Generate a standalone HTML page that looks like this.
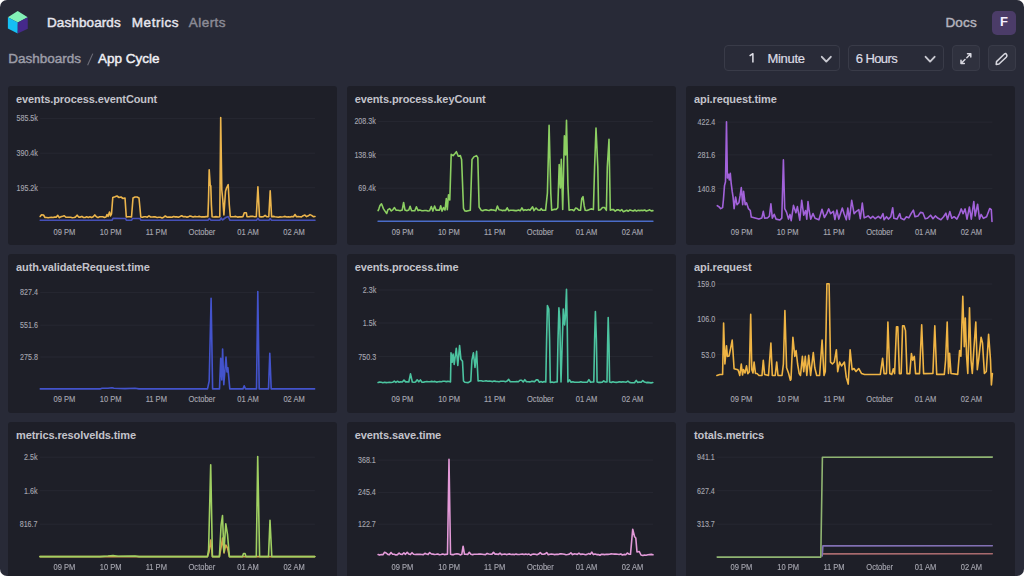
<!DOCTYPE html>
<html><head><meta charset="utf-8">
<style>
html,body{margin:0;padding:0;background:#fff;}
body{width:1024px;height:576px;overflow:hidden;position:relative;font-family:"Liberation Sans",sans-serif;}
#app{filter:blur(0.3px);position:absolute;left:0;top:0;width:1024px;height:576px;background:#282a37;border-radius:7px;overflow:hidden;}
.abs{position:absolute;white-space:nowrap;}
.nav{font-size:13.5px;top:14.9px;line-height:16px;color:#e6e6ee;-webkit-text-stroke:0.45px currentColor;}
.panel{position:absolute;width:329.1px;height:159.5px;background:#1e1f28;border-radius:3px;}
.ptitle{position:absolute;font-size:11px;line-height:12px;letter-spacing:-0.1px;font-weight:bold;color:#c3c3cb;white-space:nowrap;}
.sel{position:absolute;top:44.8px;height:26.6px;border:1px solid #393b48;border-radius:4px;box-sizing:border-box;background:#2b2d3a;}
.ctl{font-size:13px;top:51px;line-height:16px;color:#dcdce4;-webkit-text-stroke:0.2px currentColor;}
svg text{font-family:"Liberation Sans",sans-serif;}
.yl{font-size:8.2px;fill:#a6a6b0;stroke:#a6a6b0;stroke-width:0.12px;}
.xl{font-size:8.2px;fill:#a8a8b2;stroke:#a8a8b2;stroke-width:0.12px;}
</style></head>
<body><div id="app">
<svg class="abs" style="left:0;top:0" width="40" height="40" viewBox="0 0 40 40">
<polygon points="17.7,11 27.7,17.2 17.8,22.6 7.9,17.2" fill="#83f0b6"/>
<polygon points="7.9,17.2 17.8,22.6 17.7,33.6 7.9,28.4" fill="#15bff3"/>
<polygon points="27.7,17.2 27.8,28.8 17.7,33.6 17.8,22.6" fill="#45298a"/>
</svg>
<div class="abs nav" style="left:47px;letter-spacing:0.1px">Dashboards</div>
<div class="abs nav" style="left:131.8px;letter-spacing:0.55px">Metrics</div>
<div class="abs nav" style="left:188.8px;letter-spacing:0.45px;color:#8b8b96">Alerts</div>
<div class="abs nav" style="left:945.4px;letter-spacing:0.2px;color:#b4b4be">Docs</div>
<div class="abs" style="left:992px;top:10.5px;width:24px;height:24px;border-radius:5px;background:#4b3c68;color:#f4f0ff;font-weight:bold;font-size:13px;text-align:center;line-height:22.4px;">F</div>

<div class="abs nav" style="left:8.2px;top:50.7px;font-size:13.5px;color:#9d9da8">Dashboards</div>

<div class="abs nav" style="left:98px;top:50.7px;font-size:13.5px;color:#f0f0f5">App Cycle</div>

<div class="sel" style="left:724px;width:116px;background:#292b38"></div>
<div class="sel" style="left:848px;width:96px;background:#292b38"></div>
<div class="sel" style="left:952px;width:28px;background:#2f313e"></div>
<div class="sel" style="left:988px;width:28px;background:#2f313e"></div>

<div class="abs ctl" style="left:767.5px;letter-spacing:-0.3px">Minute</div>
<div class="abs ctl" style="left:855.8px;letter-spacing:-0.6px">6 Hours</div>
<svg class="abs" style="left:0;top:0" width="1024" height="80" viewBox="0 0 1024 80">
<path d="M749.6,55.9 L752.9,53.7 L752.9,62.6" fill="none" stroke="#e2e2ea" stroke-width="1.5" stroke-linejoin="round"/>
<path d="M87.6,65.2 L92.8,53.6" stroke="#6e6e79" stroke-width="1.1"/>
<path d="M821.8,56.8 L826.3,61.6 L830.8,56.8" fill="none" stroke="#c8c8d0" stroke-width="1.9" stroke-linecap="round" stroke-linejoin="round"/>
<path d="M925.6,56.8 L930.1,61.6 L934.6,56.8" fill="none" stroke="#c8c8d0" stroke-width="1.9" stroke-linecap="round" stroke-linejoin="round"/>
<g fill="none" stroke="#d8d8e0" stroke-width="1.5" stroke-linecap="round" stroke-linejoin="round">
<path d="M961,63.5 L965,59.5 M961,60.2 L961,63.5 L964.3,63.5 M970.8,53.8 L966.8,57.8 M967.5,53.8 L970.8,53.8 L970.8,57.1"/>
<path d="M1005.6,53.4 Q1007.9,55.5 1006.2,57.3 L999,64 L996.2,64.4 L996.5,61.6 L1003.6,54.8 Q1004.6,53.6 1005.6,53.4 Z"/>
</g>
</svg>

<div class="panel" style="left:8.0px;top:85.6px"></div>
<div class="ptitle" style="left:16.0px;top:93.0px">events.process.eventCount</div>
<div class="panel" style="left:346.7px;top:85.6px"></div>
<div class="ptitle" style="left:354.7px;top:93.0px">events.process.keyCount</div>
<div class="panel" style="left:686.0px;top:85.6px"></div>
<div class="ptitle" style="left:694.0px;top:93.0px">api.request.time</div>
<div class="panel" style="left:8.0px;top:253.5px"></div>
<div class="ptitle" style="left:16.0px;top:260.9px">auth.validateRequest.time</div>
<div class="panel" style="left:346.7px;top:253.5px"></div>
<div class="ptitle" style="left:354.7px;top:260.9px">events.process.time</div>
<div class="panel" style="left:686.0px;top:253.5px"></div>
<div class="ptitle" style="left:694.0px;top:260.9px">api.request</div>
<div class="panel" style="left:8.0px;top:421.6px"></div>
<div class="ptitle" style="left:16.0px;top:429.0px">metrics.resolveIds.time</div>
<div class="panel" style="left:346.7px;top:421.6px"></div>
<div class="ptitle" style="left:354.7px;top:429.0px">events.save.time</div>
<div class="panel" style="left:686.0px;top:421.6px"></div>
<div class="ptitle" style="left:694.0px;top:429.0px">totals.metrics</div>
<svg class="abs" style="left:0;top:0" width="1024" height="576" viewBox="0 0 1024 576">
<line x1="40.2" y1="118.4" x2="315.0" y2="118.4" stroke="#272832" stroke-width="1"/>
<line x1="40.2" y1="153.2" x2="315.0" y2="153.2" stroke="#272832" stroke-width="1"/>
<line x1="40.2" y1="187.7" x2="315.0" y2="187.7" stroke="#272832" stroke-width="1"/>
<line x1="378.1" y1="121.4" x2="652.9" y2="121.4" stroke="#272832" stroke-width="1"/>
<line x1="378.1" y1="154.9" x2="652.9" y2="154.9" stroke="#272832" stroke-width="1"/>
<line x1="378.1" y1="188.2" x2="652.9" y2="188.2" stroke="#272832" stroke-width="1"/>
<line x1="717.6" y1="122.1" x2="992.4" y2="122.1" stroke="#272832" stroke-width="1"/>
<line x1="717.6" y1="154.9" x2="992.4" y2="154.9" stroke="#272832" stroke-width="1"/>
<line x1="717.6" y1="188.6" x2="992.4" y2="188.6" stroke="#272832" stroke-width="1"/>
<line x1="40.3" y1="292.4" x2="314.6" y2="292.4" stroke="#272832" stroke-width="1"/>
<line x1="40.3" y1="325.2" x2="314.6" y2="325.2" stroke="#272832" stroke-width="1"/>
<line x1="40.3" y1="357.0" x2="314.6" y2="357.0" stroke="#272832" stroke-width="1"/>
<line x1="378.1" y1="290.0" x2="652.8" y2="290.0" stroke="#272832" stroke-width="1"/>
<line x1="378.1" y1="323.0" x2="652.8" y2="323.0" stroke="#272832" stroke-width="1"/>
<line x1="378.1" y1="356.6" x2="652.8" y2="356.6" stroke="#272832" stroke-width="1"/>
<line x1="717.1" y1="284.0" x2="992.3" y2="284.0" stroke="#272832" stroke-width="1"/>
<line x1="717.1" y1="319.2" x2="992.3" y2="319.2" stroke="#272832" stroke-width="1"/>
<line x1="717.1" y1="354.6" x2="992.3" y2="354.6" stroke="#272832" stroke-width="1"/>
<line x1="39.9" y1="457.2" x2="314.8" y2="457.2" stroke="#272832" stroke-width="1"/>
<line x1="39.9" y1="490.7" x2="314.8" y2="490.7" stroke="#272832" stroke-width="1"/>
<line x1="39.9" y1="524.2" x2="314.8" y2="524.2" stroke="#272832" stroke-width="1"/>
<line x1="378.1" y1="460.1" x2="653.0" y2="460.1" stroke="#272832" stroke-width="1"/>
<line x1="378.1" y1="492.4" x2="653.0" y2="492.4" stroke="#272832" stroke-width="1"/>
<line x1="378.1" y1="524.2" x2="653.0" y2="524.2" stroke="#272832" stroke-width="1"/>
<line x1="717.2" y1="457.2" x2="992.3" y2="457.2" stroke="#272832" stroke-width="1"/>
<line x1="717.2" y1="490.7" x2="992.3" y2="490.7" stroke="#272832" stroke-width="1"/>
<line x1="717.2" y1="524.2" x2="992.3" y2="524.2" stroke="#272832" stroke-width="1"/>
<text transform="translate(37.9,121.3) scale(0.87,1)" text-anchor="end" class="yl">585.5k</text>
<text transform="translate(37.9,156.1) scale(0.87,1)" text-anchor="end" class="yl">390.4k</text>
<text transform="translate(37.9,190.6) scale(0.87,1)" text-anchor="end" class="yl">195.2k</text>
<text transform="translate(64.4,234.7) scale(0.92,1)" text-anchor="middle" class="xl">09 PM</text>
<text transform="translate(110.6,234.7) scale(0.92,1)" text-anchor="middle" class="xl">10 PM</text>
<text transform="translate(156.3,234.7) scale(0.92,1)" text-anchor="middle" class="xl">11 PM</text>
<text transform="translate(202.0,234.7) scale(0.92,1)" text-anchor="middle" class="xl">October</text>
<text transform="translate(248.0,234.7) scale(0.92,1)" text-anchor="middle" class="xl">01 AM</text>
<text transform="translate(294.0,234.7) scale(0.92,1)" text-anchor="middle" class="xl">02 AM</text>
<text transform="translate(375.8,124.3) scale(0.87,1)" text-anchor="end" class="yl">208.3k</text>
<text transform="translate(375.8,157.8) scale(0.87,1)" text-anchor="end" class="yl">138.9k</text>
<text transform="translate(375.8,191.1) scale(0.87,1)" text-anchor="end" class="yl">69.4k</text>
<text transform="translate(402.7,234.7) scale(0.92,1)" text-anchor="middle" class="xl">09 PM</text>
<text transform="translate(448.8,234.7) scale(0.92,1)" text-anchor="middle" class="xl">10 PM</text>
<text transform="translate(494.7,234.7) scale(0.92,1)" text-anchor="middle" class="xl">11 PM</text>
<text transform="translate(540.2,234.7) scale(0.92,1)" text-anchor="middle" class="xl">October</text>
<text transform="translate(586.5,234.7) scale(0.92,1)" text-anchor="middle" class="xl">01 AM</text>
<text transform="translate(632.4,234.7) scale(0.92,1)" text-anchor="middle" class="xl">02 AM</text>
<text transform="translate(715.3,125.0) scale(0.87,1)" text-anchor="end" class="yl">422.4</text>
<text transform="translate(715.3,157.8) scale(0.87,1)" text-anchor="end" class="yl">281.6</text>
<text transform="translate(715.3,191.5) scale(0.87,1)" text-anchor="end" class="yl">140.8</text>
<text transform="translate(741.6,234.7) scale(0.92,1)" text-anchor="middle" class="xl">09 PM</text>
<text transform="translate(787.7,234.7) scale(0.92,1)" text-anchor="middle" class="xl">10 PM</text>
<text transform="translate(833.8,234.7) scale(0.92,1)" text-anchor="middle" class="xl">11 PM</text>
<text transform="translate(879.6,234.7) scale(0.92,1)" text-anchor="middle" class="xl">October</text>
<text transform="translate(925.6,234.7) scale(0.92,1)" text-anchor="middle" class="xl">01 AM</text>
<text transform="translate(971.3,234.7) scale(0.92,1)" text-anchor="middle" class="xl">02 AM</text>
<text transform="translate(37.9,295.3) scale(0.87,1)" text-anchor="end" class="yl">827.4</text>
<text transform="translate(37.9,328.1) scale(0.87,1)" text-anchor="end" class="yl">551.6</text>
<text transform="translate(37.9,359.9) scale(0.87,1)" text-anchor="end" class="yl">275.8</text>
<text transform="translate(64.4,402.3) scale(0.92,1)" text-anchor="middle" class="xl">09 PM</text>
<text transform="translate(110.6,402.3) scale(0.92,1)" text-anchor="middle" class="xl">10 PM</text>
<text transform="translate(156.3,402.3) scale(0.92,1)" text-anchor="middle" class="xl">11 PM</text>
<text transform="translate(201.9,402.3) scale(0.92,1)" text-anchor="middle" class="xl">October</text>
<text transform="translate(248.0,402.3) scale(0.92,1)" text-anchor="middle" class="xl">01 AM</text>
<text transform="translate(294.1,402.3) scale(0.92,1)" text-anchor="middle" class="xl">02 AM</text>
<text transform="translate(376.2,292.9) scale(0.87,1)" text-anchor="end" class="yl">2.3k</text>
<text transform="translate(376.2,325.9) scale(0.87,1)" text-anchor="end" class="yl">1.5k</text>
<text transform="translate(376.2,359.5) scale(0.87,1)" text-anchor="end" class="yl">750.3</text>
<text transform="translate(402.5,402.3) scale(0.92,1)" text-anchor="middle" class="xl">09 PM</text>
<text transform="translate(449.1,402.3) scale(0.92,1)" text-anchor="middle" class="xl">10 PM</text>
<text transform="translate(494.7,402.3) scale(0.92,1)" text-anchor="middle" class="xl">11 PM</text>
<text transform="translate(540.4,402.3) scale(0.92,1)" text-anchor="middle" class="xl">October</text>
<text transform="translate(586.5,402.3) scale(0.92,1)" text-anchor="middle" class="xl">01 AM</text>
<text transform="translate(632.5,402.3) scale(0.92,1)" text-anchor="middle" class="xl">02 AM</text>
<text transform="translate(715.2,286.9) scale(0.87,1)" text-anchor="end" class="yl">159.0</text>
<text transform="translate(715.2,322.1) scale(0.87,1)" text-anchor="end" class="yl">106.0</text>
<text transform="translate(715.2,357.5) scale(0.87,1)" text-anchor="end" class="yl">53.0</text>
<text transform="translate(741.4,402.3) scale(0.92,1)" text-anchor="middle" class="xl">09 PM</text>
<text transform="translate(788.2,402.3) scale(0.92,1)" text-anchor="middle" class="xl">10 PM</text>
<text transform="translate(834.0,402.3) scale(0.92,1)" text-anchor="middle" class="xl">11 PM</text>
<text transform="translate(879.7,402.3) scale(0.92,1)" text-anchor="middle" class="xl">October</text>
<text transform="translate(925.5,402.3) scale(0.92,1)" text-anchor="middle" class="xl">01 AM</text>
<text transform="translate(971.4,402.3) scale(0.92,1)" text-anchor="middle" class="xl">02 AM</text>
<text transform="translate(37.5,460.1) scale(0.87,1)" text-anchor="end" class="yl">2.5k</text>
<text transform="translate(37.5,493.6) scale(0.87,1)" text-anchor="end" class="yl">1.6k</text>
<text transform="translate(37.5,527.1) scale(0.87,1)" text-anchor="end" class="yl">816.7</text>
<text transform="translate(64.4,570.3) scale(0.92,1)" text-anchor="middle" class="xl">09 PM</text>
<text transform="translate(110.6,570.3) scale(0.92,1)" text-anchor="middle" class="xl">10 PM</text>
<text transform="translate(156.3,570.3) scale(0.92,1)" text-anchor="middle" class="xl">11 PM</text>
<text transform="translate(201.9,570.3) scale(0.92,1)" text-anchor="middle" class="xl">October</text>
<text transform="translate(248.0,570.3) scale(0.92,1)" text-anchor="middle" class="xl">01 AM</text>
<text transform="translate(294.1,570.3) scale(0.92,1)" text-anchor="middle" class="xl">02 AM</text>
<text transform="translate(375.8,463.0) scale(0.87,1)" text-anchor="end" class="yl">368.1</text>
<text transform="translate(375.8,495.3) scale(0.87,1)" text-anchor="end" class="yl">245.4</text>
<text transform="translate(375.8,527.1) scale(0.87,1)" text-anchor="end" class="yl">122.7</text>
<text transform="translate(402.5,570.3) scale(0.92,1)" text-anchor="middle" class="xl">09 PM</text>
<text transform="translate(449.1,570.3) scale(0.92,1)" text-anchor="middle" class="xl">10 PM</text>
<text transform="translate(494.7,570.3) scale(0.92,1)" text-anchor="middle" class="xl">11 PM</text>
<text transform="translate(540.4,570.3) scale(0.92,1)" text-anchor="middle" class="xl">October</text>
<text transform="translate(586.5,570.3) scale(0.92,1)" text-anchor="middle" class="xl">01 AM</text>
<text transform="translate(632.5,570.3) scale(0.92,1)" text-anchor="middle" class="xl">02 AM</text>
<text transform="translate(714.8,460.1) scale(0.87,1)" text-anchor="end" class="yl">941.1</text>
<text transform="translate(714.8,493.6) scale(0.87,1)" text-anchor="end" class="yl">627.4</text>
<text transform="translate(714.8,527.1) scale(0.87,1)" text-anchor="end" class="yl">313.7</text>
<text transform="translate(741.4,570.3) scale(0.92,1)" text-anchor="middle" class="xl">09 PM</text>
<text transform="translate(788.2,570.3) scale(0.92,1)" text-anchor="middle" class="xl">10 PM</text>
<text transform="translate(834.0,570.3) scale(0.92,1)" text-anchor="middle" class="xl">11 PM</text>
<text transform="translate(879.7,570.3) scale(0.92,1)" text-anchor="middle" class="xl">October</text>
<text transform="translate(925.5,570.3) scale(0.92,1)" text-anchor="middle" class="xl">01 AM</text>
<text transform="translate(971.4,570.3) scale(0.92,1)" text-anchor="middle" class="xl">02 AM</text>
<path d="M40.2,216.5 L41.5,214.8 L43.5,215.0 L45.0,217.5 L46.6,217.5 L48.2,217.8 L49.8,217.5 L51.4,217.2 L53.0,217.5 L54.6,217.1 L56.2,217.1 L57.8,215.4 L59.4,217.7 L61.1,216.6 L62.7,216.3 L64.3,215.7 L65.9,217.3 L67.5,217.3 L69.1,217.3 L70.7,217.3 L72.3,217.7 L73.9,217.5 L75.5,217.1 L77.1,215.2 L78.7,217.1 L80.3,217.1 L81.9,216.4 L83.5,217.5 L85.1,217.5 L86.7,216.8 L88.3,217.4 L89.9,216.8 L91.6,217.5 L93.2,216.8 L94.8,214.9 L96.4,216.8 L98.0,217.6 L99.6,216.8 L101.2,216.7 L102.8,216.8 L104.4,217.4 L106.0,217.0 L107.0,214.5 L108.0,216.5 L109.5,212.0 L110.5,216.0 L111.5,214.0 L112.8,197.5 L115.0,196.8 L117.0,196.0 L119.0,197.5 L121.0,197.0 L123.0,198.5 L125.0,198.0 L126.3,217.0 L128.0,216.8 L129.8,216.8 L131.5,217.0 L133.0,198.0 L135.0,197.0 L137.0,197.0 L139.0,198.0 L140.8,217.0 L142.4,217.3 L144.1,216.7 L145.7,216.8 L147.3,217.2 L149.0,215.9 L150.6,217.0 L152.3,217.0 L153.9,216.9 L155.5,216.9 L157.2,217.5 L158.8,217.2 L160.4,217.3 L162.1,217.9 L163.7,217.2 L165.3,216.0 L167.0,217.2 L168.6,217.0 L170.3,217.1 L171.9,217.3 L173.5,216.5 L175.2,216.9 L176.8,216.9 L178.4,217.2 L180.1,216.5 L181.7,215.7 L183.4,216.7 L185.0,216.5 L186.6,217.1 L188.3,216.9 L189.9,216.0 L191.5,216.4 L193.2,216.9 L194.8,216.4 L196.4,216.7 L198.1,216.6 L199.7,216.4 L201.4,216.9 L203.0,216.9 L204.6,216.9 L206.3,216.6 L207.9,216.7 L208.5,200.0 L209.2,169.7 L210.2,185.0 L210.8,186.0 L211.4,205.0 L212.1,216.7 L214.0,217.0 L215.9,216.6 L217.9,217.0 L219.8,216.7 L220.7,117.6 L221.8,190.0 L222.8,199.8 L223.9,215.0 L225.5,191.2 L226.5,188.0 L228.2,184.7 L229.3,205.0 L230.3,216.7 L232.1,216.8 L233.9,216.8 L235.7,216.4 L237.5,217.1 L239.3,216.9 L241.1,216.9 L242.9,216.7 L244.3,212.7 L246.3,212.7 L247.0,216.7 L248.9,216.7 L250.7,216.4 L252.6,216.3 L254.4,216.7 L256.3,216.7 L257.9,186.8 L259.5,216.7 L261.4,216.9 L263.2,216.8 L265.1,215.3 L266.9,216.8 L268.8,216.7 L270.2,190.8 L271.6,216.7 L273.3,216.4 L275.0,216.8 L276.7,217.0 L278.3,217.3 L280.0,216.9 L281.7,217.0 L283.4,216.8 L285.1,216.4 L286.8,217.0 L288.4,216.9 L290.1,217.0 L291.8,216.5 L293.5,216.7 L295.0,214.5 L296.5,216.7 L298.2,216.6 L299.9,216.7 L301.5,216.9 L303.2,215.7 L304.9,215.1 L306.6,216.6 L308.3,215.8 L310.0,214.6 L311.6,215.4 L313.3,216.6 L315.0,216.5" fill="none" stroke="#ecb54c" stroke-width="1.6" stroke-linejoin="round" stroke-linecap="round"/>
<path d="M40.2,220.3 L112.0,220.3 L113.0,218.3 L125.5,218.5 L126.5,220.3 L131.5,220.3 L132.5,218.5 L140.0,218.5 L141.0,220.3 L208.0,220.3 L209.4,218.5 L211.0,220.3 L219.8,220.3 L221.2,218.0 L222.5,220.0 L225.8,217.5 L228.2,216.5 L230.0,220.3 L256.5,220.3 L257.9,218.3 L259.3,220.3 L269.0,220.3 L270.2,218.5 L271.5,220.3 L315.0,220.3" fill="none" stroke="#4650b8" stroke-width="1.6" stroke-linejoin="round" stroke-linecap="round"/>
<path d="M378.1,210.6 L378.8,209.1 L380.0,205.6 L381.5,203.8 L383.5,208.9 L385.0,211.1 L386.7,213.5 L388.0,209.6 L389.7,208.6 L391.3,211.0 L393.0,209.6 L394.5,207.6 L396.0,210.1 L398.1,210.3 L400.1,210.7 L402.2,210.1 L403.6,202.5 L405.0,210.1 L406.9,210.8 L408.8,210.1 L410.1,206.3 L411.5,210.6 L413.1,210.7 L414.8,210.8 L416.4,206.8 L418.1,210.6 L419.7,210.0 L421.4,210.6 L423.0,210.8 L424.7,210.5 L426.3,210.5 L428.0,211.0 L429.6,210.7 L431.3,206.6 L432.9,211.1 L434.6,206.0 L436.2,210.2 L437.9,210.0 L439.5,210.1 L440.7,205.7 L442.0,211.1 L443.5,207.6 L445.0,210.1 L446.3,198.6 L447.3,209.6 L448.5,194.7 L449.8,200.0 L451.2,154.3 L453.1,155.6 L455.0,153.5 L456.4,151.7 L458.3,156.3 L460.3,155.6 L461.6,159.5 L463.5,208.3 L464.8,210.9 L467.0,211.1 L470.3,210.2 L472.0,159.5 L473.9,156.9 L476.5,155.6 L477.8,157.6 L479.1,207.0 L481.1,210.2 L482.7,210.8 L484.4,210.0 L486.0,209.9 L487.6,210.3 L489.2,210.5 L490.9,209.6 L492.5,210.0 L494.1,210.1 L495.8,210.9 L497.4,206.0 L499.0,209.7 L500.7,210.0 L502.3,210.6 L503.9,210.3 L505.6,210.5 L507.2,207.8 L508.8,210.8 L510.4,210.2 L512.1,210.3 L513.7,210.4 L515.3,210.6 L517.0,210.6 L518.6,210.1 L520.2,210.8 L521.9,207.9 L523.5,210.5 L525.1,209.8 L526.7,210.2 L528.4,209.6 L530.0,210.3 L532.6,206.8 L534.0,210.6 L536.0,208.0 L538.0,210.0 L540.0,210.3 L541.3,208.6 L542.5,210.3 L545.6,210.3 L547.4,193.2 L549.1,125.4 L550.8,193.2 L551.7,210.3 L553.9,209.4 L556.1,209.4 L557.8,207.7 L559.2,164.5 L560.4,188.0 L561.3,159.3 L562.7,209.4 L564.4,135.8 L565.6,155.0 L566.5,120.2 L567.9,184.5 L569.1,210.3 L570.7,209.7 L572.4,209.8 L574.0,210.7 L575.6,208.1 L577.2,208.6 L578.9,210.3 L580.5,210.3 L581.8,198.4 L583.0,196.7 L584.2,205.9 L585.2,210.3 L586.8,210.5 L588.5,209.9 L590.1,209.3 L591.8,208.9 L593.4,209.4 L594.6,167.1 L596.0,128.0 L597.8,167.1 L598.6,210.3 L600.5,209.8 L602.5,207.5 L604.5,207.5 L606.4,210.3 L607.3,167.1 L609.0,139.3 L610.3,210.3 L611.9,209.6 L613.6,209.6 L615.2,211.1 L616.9,209.9 L618.5,209.8 L620.1,210.9 L621.8,209.6 L623.4,211.8 L625.0,211.0 L626.7,210.2 L628.3,211.2 L630.0,209.9 L631.6,210.5 L633.2,211.0 L634.9,210.0 L636.5,211.1 L638.2,210.3 L639.8,210.6 L641.4,210.3 L643.1,210.6 L644.7,210.0 L646.3,211.1 L648.0,210.6 L649.6,209.8 L651.3,210.9 L652.9,210.6" fill="none" stroke="#8ccf62" stroke-width="1.6" stroke-linejoin="round" stroke-linecap="round"/>
<path d="M378.1,221.2 L652.9,221.2" fill="none" stroke="#4a6cc8" stroke-width="1.6" stroke-linejoin="round" stroke-linecap="round"/>
<path d="M717.3,205.7 L718.8,206.6 L720.7,208.6 L722.6,207.6 L723.4,200.0 L724.5,185.6 L725.5,181.8 L726.5,121.7 L727.4,178.0 L728.4,174.2 L729.3,180.0 L730.3,173.2 L731.2,183.7 L732.2,191.4 L733.1,197.1 L734.1,208.6 L735.6,197.1 L737.0,204.7 L738.9,202.8 L740.2,195.2 L741.3,187.6 L742.7,204.7 L743.6,191.4 L745.2,204.7 L746.5,202.8 L748.4,208.6 L750.3,210.5 L751.3,217.1 L755.1,218.1 L758.9,219.1 L761.8,218.1 L763.3,211.4 L764.6,218.1 L767.5,218.0 L769.4,216.2 L770.9,203.8 L772.3,218.1 L774.2,214.3 L776.1,219.1 L779.9,220.0 L781.8,218.1 L783.4,159.9 L784.7,208.6 L786.6,212.4 L788.5,219.1 L790.0,214.4 L791.2,220.6 L793.5,205.4 L795.9,212.8 L797.4,206.6 L799.8,220.2 L801.7,200.3 L803.7,215.2 L805.6,210.5 L806.8,219.1 L808.0,201.5 L809.1,210.5 L810.7,219.1 L813.0,213.6 L815.0,218.3 L818.9,219.8 L822.0,209.3 L824.4,217.5 L826.7,213.6 L828.7,208.9 L830.6,213.6 L833.4,211.3 L834.9,219.5 L836.9,210.1 L838.8,219.1 L842.3,208.1 L843.9,213.2 L846.3,219.8 L847.8,208.1 L849.4,219.5 L851.7,200.3 L854.1,213.6 L856.4,211.3 L858.8,209.7 L860.3,218.7 L862.3,203.0 L864.2,217.9 L866.6,216.7 L868.1,215.9 L870.5,218.3 L872.8,216.3 L875.2,218.7 L878.3,216.3 L880.6,218.3 L883.0,213.6 L884.1,219.8 L886.5,216.7 L888.4,219.1 L890.8,216.7 L892.7,207.7 L893.9,218.3 L897.0,219.1 L899.8,213.6 L900.9,218.3 L904.1,219.8 L906.4,216.7 L908.8,217.9 L911.1,213.6 L913.4,210.1 L915.0,216.7 L918.1,215.9 L920.5,212.4 L922.8,212.8 L925.2,218.7 L927.5,218.3 L930.6,215.2 L933.0,218.7 L935.3,215.9 L938.1,218.3 L940.9,219.8 L943.6,216.7 L945.9,213.2 L947.5,219.5 L949.8,211.6 L951.8,218.3 L954.1,216.7 L956.9,219.1 L959.2,214.4 L961.2,208.9 L963.1,213.6 L965.1,208.9 L967.0,219.1 L969.4,207.0 L971.3,219.1 L973.8,201.5 L975.2,215.9 L977.6,204.2 L979.5,219.1 L981.1,214.4 L983.4,218.3 L986.6,216.7 L989.7,208.5 L991.3,209.7 L992.0,221.4" fill="none" stroke="#a262da" stroke-width="1.6" stroke-linejoin="round" stroke-linecap="round"/>
<path d="M40.3,388.9 L100.0,388.9 L102.0,388.3 L108.0,388.3 L112.0,387.8 L114.0,388.3 L125.0,388.6 L135.0,388.2 L139.0,388.9 L207.5,388.9 L209.2,381.0 L211.1,298.3 L212.6,388.9 L219.5,388.9 L220.7,358.2 L221.8,380.0 L222.6,349.1 L223.8,384.6 L226.0,357.0 L227.0,372.0 L227.9,367.8 L229.8,388.9 L243.0,388.9 L244.2,385.8 L245.5,388.9 L256.5,388.9 L257.8,291.6 L259.2,388.9 L268.5,388.9 L269.8,353.4 L271.2,388.9 L314.6,388.9" fill="none" stroke="#4353cc" stroke-width="1.6" stroke-linejoin="round" stroke-linecap="round"/>
<path d="M378.1,382.5 L379.7,382.1 L381.3,382.2 L382.9,382.7 L384.6,382.2 L386.2,382.6 L387.8,382.5 L389.4,382.2 L391.0,382.5 L392.6,382.3 L394.3,381.1 L395.9,382.4 L397.5,381.2 L399.1,382.2 L400.7,381.9 L402.3,382.0 L404.0,380.1 L405.6,381.9 L407.2,381.8 L408.8,382.0 L410.5,373.8 L412.3,382.0 L413.9,382.3 L415.5,382.0 L417.2,379.8 L418.8,381.8 L420.4,379.9 L422.0,382.2 L423.6,382.1 L425.2,381.7 L426.9,381.5 L428.5,381.7 L430.1,381.7 L431.7,381.4 L433.3,381.8 L434.9,381.4 L436.6,382.1 L438.2,381.8 L439.8,381.6 L441.4,381.7 L443.0,381.2 L444.6,381.3 L446.3,381.6 L447.9,381.4 L449.5,381.5 L450.5,382.0 L451.0,352.9 L452.1,362.3 L453.1,354.0 L454.2,364.4 L456.3,348.2 L457.8,365.4 L459.6,345.6 L460.9,359.2 L462.5,361.3 L463.5,381.0 L465.0,382.3 L468.2,382.6 L470.8,381.0 L471.9,360.2 L473.4,352.9 L475.0,367.5 L476.6,351.4 L478.1,381.0 L479.7,380.8 L481.3,380.8 L482.9,381.2 L484.5,381.0 L486.2,380.7 L487.8,381.2 L489.4,381.0 L491.0,381.3 L492.6,381.6 L494.2,381.0 L495.8,381.4 L497.4,381.5 L499.1,381.7 L500.7,381.3 L502.3,381.2 L503.9,381.3 L505.5,381.7 L507.1,381.1 L508.7,379.4 L510.3,381.7 L511.9,381.8 L513.6,381.8 L515.2,381.8 L516.8,381.6 L518.4,381.8 L520.0,380.2 L521.6,380.3 L523.2,382.0 L524.8,379.7 L526.5,381.8 L528.1,381.8 L529.7,381.9 L531.3,381.4 L532.9,381.4 L534.5,381.8 L536.1,379.9 L537.7,379.8 L539.4,382.2 L541.0,381.6 L542.6,382.2 L544.2,381.6 L545.8,382.0 L546.6,340.0 L547.4,305.5 L548.8,309.0 L549.6,340.0 L550.3,382.5 L552.0,382.0 L553.8,382.5 L555.5,382.0 L557.2,382.0 L558.0,340.0 L558.9,307.9 L559.8,320.0 L560.5,360.0 L561.0,382.0 L562.0,350.0 L563.3,309.1 L564.6,325.0 L565.3,318.0 L566.5,289.2 L567.3,330.0 L567.9,382.0 L569.5,379.9 L571.1,382.3 L572.8,381.7 L574.4,382.3 L576.0,382.2 L577.6,382.3 L579.2,382.2 L580.8,381.7 L582.5,382.2 L584.1,382.2 L585.7,382.2 L587.3,382.2 L588.9,379.6 L590.6,382.3 L592.2,382.0 L593.8,382.0 L594.6,340.0 L595.4,311.5 L596.4,340.0 L597.1,382.0 L598.8,382.4 L600.4,382.4 L602.0,382.3 L603.7,380.8 L605.4,382.0 L607.0,382.0 L607.6,345.0 L608.2,317.5 L609.0,345.0 L609.6,382.0 L611.3,382.4 L612.9,381.7 L614.6,382.3 L616.2,382.4 L617.9,382.1 L619.6,381.7 L621.2,382.1 L622.9,381.8 L624.6,382.0 L626.2,382.2 L627.9,381.1 L629.5,382.4 L631.2,382.7 L632.9,382.7 L634.5,382.7 L636.2,380.4 L637.8,382.4 L639.5,382.0 L641.2,382.2 L642.8,380.5 L644.5,382.1 L646.2,382.6 L647.8,382.4 L649.5,382.6 L651.1,382.9 L652.8,382.5" fill="none" stroke="#4cc4a0" stroke-width="1.6" stroke-linejoin="round" stroke-linecap="round"/>
<path d="M716.9,375.5 L719.8,374.5 L722.6,374.5 L723.6,323.0 L724.9,364.0 L726.5,345.9 L727.4,356.4 L729.0,356.0 L730.5,349.0 L732.2,340.1 L733.0,352.0 L734.1,368.8 L737.9,369.7 L738.8,372.0 L739.8,375.5 L741.3,364.0 L742.5,375.0 L743.5,369.5 L745.0,373.0 L746.5,365.9 L747.8,373.6 L749.3,372.0 L750.7,314.4 L751.8,369.7 L753.0,373.0 L754.1,362.1 L755.5,373.5 L757.0,373.5 L759.0,375.5 L762.0,375.5 L763.3,360.2 L764.6,374.5 L768.5,375.5 L770.9,343.0 L772.3,375.5 L775.2,375.5 L776.7,362.1 L778.0,375.5 L782.0,375.5 L783.4,364.0 L784.9,310.5 L786.6,367.8 L788.5,373.0 L790.4,380.2 L791.0,379.3 L792.9,337.3 L794.8,356.4 L796.1,350.6 L797.6,364.0 L799.2,373.6 L800.5,375.5 L802.4,356.4 L803.7,371.6 L805.3,356.4 L806.8,375.5 L808.7,355.4 L810.6,375.5 L813.3,352.6 L814.8,367.8 L816.7,375.5 L819.6,375.5 L822.1,340.1 L824.0,375.5 L825.3,371.6 L826.9,283.8 L829.1,283.8 L830.5,362.1 L832.4,364.0 L834.3,362.0 L836.4,349.7 L837.7,371.6 L839.6,362.1 L841.5,366.0 L844.4,362.1 L846.3,377.4 L848.2,384.1 L850.1,349.7 L852.1,369.7 L854.0,368.5 L856.0,371.5 L858.7,368.5 L861.6,373.6 L864.5,374.5 L880.3,374.5 L882.6,358.3 L884.1,373.6 L886.5,373.6 L887.9,322.0 L889.8,373.6 L891.8,374.5 L893.3,368.8 L894.6,373.6 L896.5,326.8 L897.8,326.8 L899.4,373.6 L901.2,373.6 L902.6,325.8 L904.1,325.8 L905.5,330.6 L907.0,373.6 L909.8,373.6 L911.4,353.5 L912.7,360.2 L914.3,356.4 L915.6,373.6 L919.5,373.6 L921.7,324.9 L923.6,373.6 L932.9,373.5 L934.8,325.8 L936.7,374.4 L944.3,374.4 L945.6,360.1 L947.2,322.0 L948.5,373.5 L949.6,353.4 L951.0,373.5 L957.7,374.4 L959.6,350.6 L960.9,356.3 L962.8,296.2 L964.3,346.8 L965.3,318.1 L966.6,356.3 L967.8,373.5 L969.5,307.7 L971.0,360.1 L972.3,373.5 L973.9,348.7 L975.8,322.0 L977.3,369.6 L978.6,360.1 L981.1,337.2 L982.5,342.9 L984.4,373.5 L986.3,371.5 L988.6,334.4 L990.5,360.1 L991.4,384.9 L992.4,373.5" fill="none" stroke="#efb444" stroke-width="1.6" stroke-linejoin="round" stroke-linecap="round"/>
<path d="M39.9,556.6 L207.5,556.6 L209.0,552.0 L210.7,540.0 L212.4,556.6 L219.4,556.6 L221.5,545.0 L222.5,538.0 L224.0,553.0 L225.8,545.0 L227.5,548.0 L229.4,556.6 L314.8,556.6" fill="none" stroke="#d8a048" stroke-width="1.6" stroke-linejoin="round" stroke-linecap="round"/>
<path d="M39.9,556.6 L100.0,556.6 L108.0,556.0 L113.0,555.5 L118.0,556.2 L135.0,556.0 L139.0,556.6 L207.5,556.6 L208.6,549.7 L210.7,464.8 L212.4,556.6 L219.4,556.6 L221.1,525.0 L222.5,515.5 L223.9,552.0 L225.8,523.8 L227.5,534.4 L229.4,556.6 L242.5,556.6 L243.5,553.5 L245.0,553.5 L246.0,556.6 L256.3,556.6 L257.7,456.5 L259.6,556.6 L268.5,556.6 L270.0,520.2 L271.8,556.6 L314.8,556.6" fill="none" stroke="#a0d062" stroke-width="1.6" stroke-linejoin="round" stroke-linecap="round"/>
<path d="M378.1,554.5 L379.7,555.1 L381.3,554.6 L382.9,554.7 L384.6,552.3 L386.2,553.0 L387.8,554.4 L389.4,554.7 L391.0,552.5 L392.6,554.2 L394.2,554.2 L395.9,554.9 L397.5,554.6 L399.1,553.0 L400.7,554.3 L402.3,554.4 L403.9,552.8 L405.5,554.3 L407.2,552.3 L408.8,554.1 L410.4,554.6 L412.0,552.7 L413.6,554.3 L415.2,554.5 L416.8,554.3 L418.4,554.4 L420.1,554.2 L421.7,554.5 L423.3,554.6 L424.9,553.3 L426.5,554.1 L428.1,554.6 L429.7,552.6 L431.4,554.0 L433.0,554.1 L434.6,554.5 L436.2,554.3 L437.8,554.0 L439.4,554.7 L441.0,554.5 L442.7,554.0 L444.3,554.6 L445.9,554.4 L447.5,554.3 L449.0,459.4 L450.5,554.3 L452.1,554.6 L453.7,554.6 L455.3,554.0 L457.0,553.9 L458.6,554.0 L460.2,554.9 L461.8,554.3 L463.1,546.2 L464.5,554.3 L466.1,554.2 L467.7,554.5 L469.3,552.3 L470.9,554.2 L472.6,554.6 L474.2,554.3 L475.8,554.2 L477.4,554.2 L479.0,554.1 L480.6,554.0 L482.2,554.2 L483.8,554.5 L485.5,554.6 L487.1,553.4 L488.7,554.0 L490.3,554.3 L491.9,554.1 L493.5,552.4 L495.1,554.1 L496.7,554.0 L498.3,554.5 L500.0,553.2 L501.6,554.6 L503.2,554.3 L504.8,554.1 L506.4,554.6 L508.0,554.2 L509.6,553.9 L511.2,554.5 L512.8,554.2 L514.5,554.6 L516.1,554.1 L517.7,554.5 L519.3,554.5 L520.9,554.3 L522.5,554.1 L524.1,554.5 L525.7,554.1 L527.4,554.6 L529.0,554.1 L530.6,555.2 L532.2,554.3 L533.8,554.1 L535.4,554.2 L537.0,554.8 L538.6,554.1 L540.2,552.6 L541.9,554.1 L543.5,554.3 L545.1,553.9 L546.7,552.6 L548.3,554.7 L549.9,554.3 L551.5,554.1 L553.1,554.2 L554.8,554.6 L556.4,554.3 L558.0,554.4 L559.6,553.9 L561.2,553.9 L562.8,554.0 L564.4,554.2 L566.0,554.7 L567.6,554.5 L569.3,554.1 L570.9,552.8 L572.5,554.6 L574.1,553.9 L575.7,554.0 L577.3,554.4 L578.9,553.2 L580.5,554.4 L582.2,554.1 L583.8,554.3 L585.4,554.7 L587.0,554.4 L588.6,553.6 L590.2,554.3 L591.8,552.2 L593.4,554.6 L595.0,554.1 L596.7,554.6 L598.3,554.5 L599.9,555.2 L601.5,554.2 L603.1,554.4 L604.7,554.6 L606.3,554.3 L607.9,554.4 L609.5,554.2 L611.2,553.9 L612.8,554.0 L614.4,554.1 L616.0,554.1 L617.6,554.2 L619.2,554.5 L620.8,553.9 L622.4,555.0 L624.1,554.4 L625.7,554.7 L627.3,553.0 L628.9,554.1 L630.5,554.3 L632.7,529.3 L634.6,536.8 L635.8,538.0 L637.0,552.0 L639.3,551.5 L641.0,555.0 L642.7,555.5 L644.4,555.1 L646.1,555.2 L647.9,554.8 L649.6,554.6 L651.3,554.4 L653.0,554.8" fill="none" stroke="#e39ad8" stroke-width="1.6" stroke-linejoin="round" stroke-linecap="round"/>
<path d="M822.9,553.9 L992.3,553.7" fill="none" stroke="#a86a6e" stroke-width="1.6" stroke-linejoin="round" stroke-linecap="round"/>
<path d="M822.2,556.0 L822.9,545.9 L992.3,545.8" fill="none" stroke="#8270b4" stroke-width="1.6" stroke-linejoin="round" stroke-linecap="round"/>
<path d="M717.2,557.1 L820.8,557.1 L822.4,457.3 L992.3,457.1" fill="none" stroke="#90b472" stroke-width="1.6" stroke-linejoin="round" stroke-linecap="round"/>
</svg>
</div></body></html>
